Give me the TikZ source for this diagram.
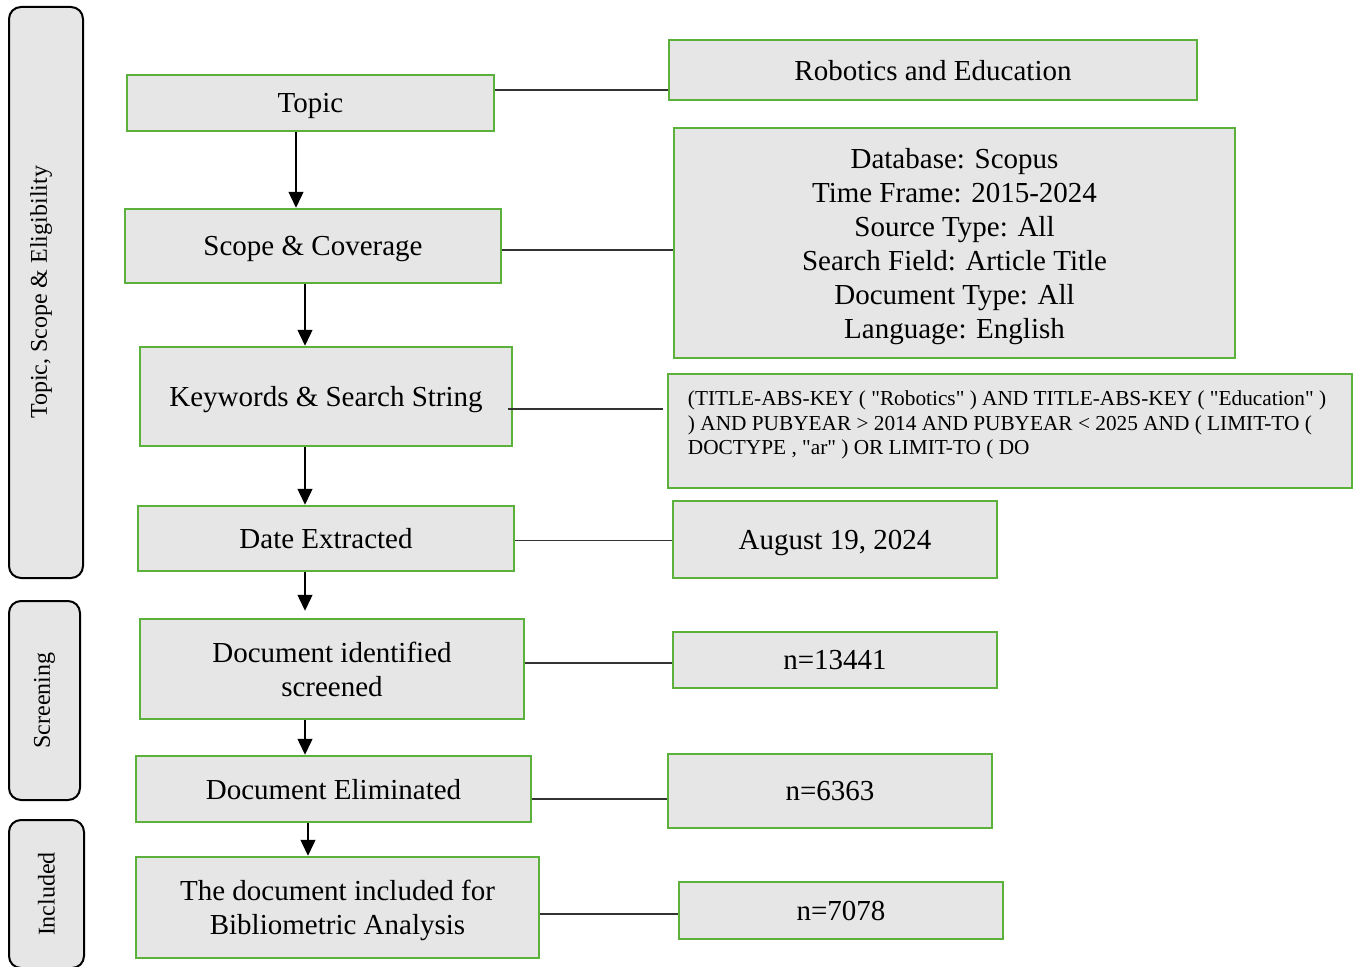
\documentclass[tikz,border=0pt]{standalone}
\usepackage{fontspec}
\setmainfont{Liberation Serif}
\usetikzlibrary{arrows.meta}
\definecolor{boxgreen}{RGB}{92,176,60}
\definecolor{boxgray}{RGB}{230,230,230}
\newcommand{\dq}{\textquotedbl}
\begin{document}
\begin{tikzpicture}
[every node/.style={inner sep=0pt},
 stepbox/.style={rectangle, fill=boxgray, draw=boxgreen, line width=2.5pt, align=center, text depth=0pt, font=\fontsize{29}{34}\selectfont},
 phasebox/.style={rectangle, rounded corners=12pt, fill=boxgray, draw=black, line width=2pt, rotate=90, font=\fontsize{24}{28}\selectfont},
 link/.style={line width=1.2pt, color=black!80},
 flow/.style={line width=1.4pt, color=black, -{Triangle[length=16pt, width=15pt]}}]
\clip (0pt, 0pt) rectangle (1356pt, -966pt);
\fill [white] (0pt, 0pt) rectangle (1356pt, -966pt);
\node (phase1) [phasebox, text depth=15pt, minimum width=571pt, minimum height=74pt] at (46pt, -292.5pt) {Topic, Scope \& Eligibility};
\node (phase2) [phasebox, minimum width=199pt, minimum height=71pt] at (44.5pt, -700.5pt) {Screening};
\node (phase3) [phasebox, minimum width=148pt, minimum height=75pt] at (46.5pt, -894pt) {Included};
\node (topic) [stepbox, minimum width=367pt, minimum height=56pt] at (310.5pt, -103pt) {Topic};
\node (scope) [stepbox, minimum width=376pt, minimum height=74pt] at (313pt, -246pt) {Scope \& Coverage};
\node (kw) [stepbox, minimum width=372pt, minimum height=99pt] at (326pt, -396.5pt) {Keywords \& Search String};
\node (date) [stepbox, minimum width=376pt, minimum height=65pt] at (326pt, -538.5pt) {Date Extracted};
\node (ident) [stepbox, minimum width=384pt, minimum height=100pt] at (332pt, -669pt) {Document identified\\screened};
\node (elim) [stepbox, minimum width=395pt, minimum height=66pt] at (333.5pt, -789pt) {Document Eliminated};
\node (incl) [stepbox, minimum width=403pt, minimum height=101pt] at (337.5pt, -907.5pt) {The document included for\\Bibliometric Analysis};
\node (rob) [stepbox, minimum width=528pt, minimum height=60pt] at (933pt, -70pt) {Robotics and Education};
\node (db) [stepbox, minimum width=561pt, minimum height=230pt] at (954.5pt, -243pt) {Database: Scopus\\Time Frame: 2015-2024\\Source Type: All\\Search Field: Article Title\\Document Type: All\\Language: English};
\node (str) [stepbox, minimum width=684pt, minimum height=114pt] at (1010pt, -431pt) {};
\node (strtext) [anchor=north west, align=left, font=\fontsize{21.3}{24.5}\selectfont] at ([xshift=21pt, yshift=-18pt]str.north west) {(TITLE-ABS-KEY ( \dq Robotics\dq\ ) AND TITLE-ABS-KEY ( \dq Education\dq\ )\\) AND PUBYEAR > 2014 AND PUBYEAR < 2025 AND ( LIMIT-TO (\\DOCTYPE , \dq ar\dq\ ) OR LIMIT-TO ( DO};
\node (aug) [stepbox, minimum width=324pt, minimum height=77pt] at (835pt, -539.5pt) {August 19, 2024};
\node (n1) [stepbox, minimum width=324pt, minimum height=56pt] at (835pt, -660pt) {n=13441};
\node (n2) [stepbox, minimum width=324pt, minimum height=74pt] at (830pt, -791pt) {n=6363};
\node (n3) [stepbox, minimum width=324pt, minimum height=57pt] at (841pt, -910.5pt) {n=7078};
\draw [link] ([yshift=13pt]topic.east) -- ([yshift=-20pt]rob.west);
\draw [link] ([yshift=-4pt]scope.east) -- ([yshift=-7pt]db.west);
\draw [link] ([xshift=-5pt, yshift=-12.5pt]kw.east) -- ([xshift=-4pt, yshift=22pt]str.west);
\draw [link] ([yshift=-2pt]date.east) -- ([yshift=-1pt]aug.west);
\draw [link] ([yshift=6pt]ident.east) -- ([yshift=-3pt]n1.west);
\draw [link] ([yshift=-10pt]elim.east) -- ([yshift=-8pt]n2.west);
\draw [link] ([yshift=-6.5pt]incl.east) -- ([yshift=-3.5pt]n3.west);
\draw [flow] ([xshift=-14.5pt]topic.south) -- ([xshift=-17pt]scope.north);
\draw [flow] ([xshift=-8pt]scope.south) -- ([xshift=-21pt]kw.north);
\draw [flow] ([xshift=-21pt]kw.south) -- ([xshift=-21pt]date.north);
\draw [flow, shorten >=7pt] ([xshift=-21pt]date.south) -- ([xshift=-27pt]ident.north);
\draw [flow] ([xshift=-27pt]ident.south) -- ([xshift=-28.5pt]elim.north);
\draw [flow] ([xshift=-25.5pt]elim.south) -- ([xshift=-29.5pt]incl.north);
\end{tikzpicture}
\end{document}
